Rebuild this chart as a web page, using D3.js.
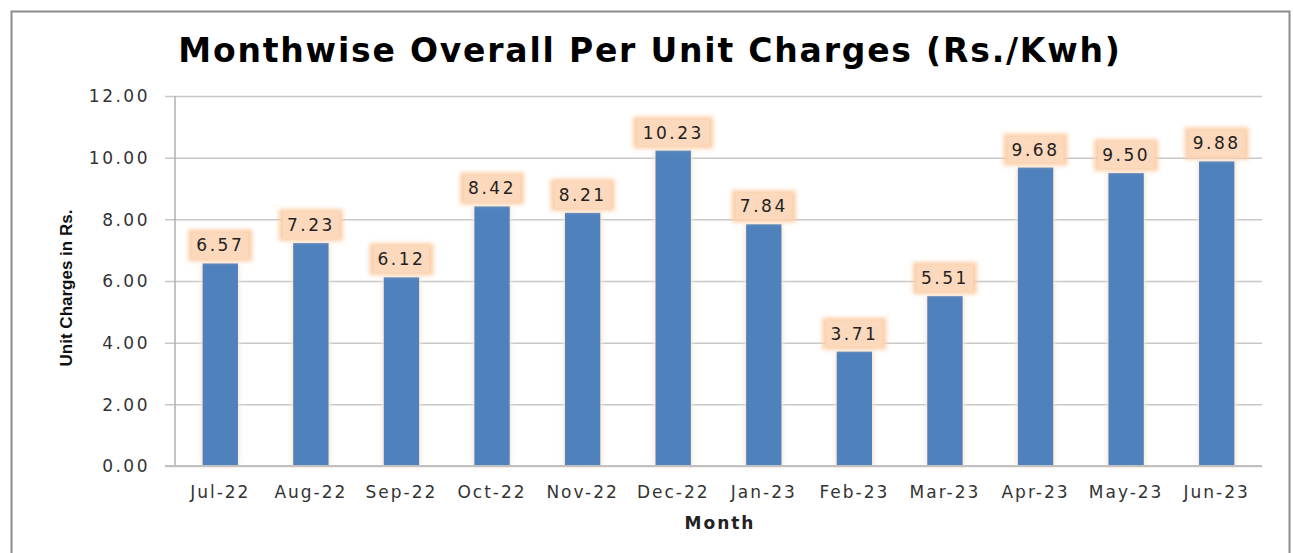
<!DOCTYPE html>
<html>
<head>
<meta charset="utf-8">
<script src="https://cdn.jsdelivr.net/npm/d3@7"></script>
<style>
  body { margin: 0; background: #fff; }
  text { font-family: "DejaVu Sans", Verdana, sans-serif; }
</style>
</head>
<body>
<div class="chart"></div>
<script>
var months = ["Jul-22", "Aug-22", "Sep-22", "Oct-22", "Nov-22", "Dec-22", "Jan-23", "Feb-23", "Mar-23", "Apr-23", "May-23", "Jun-23"];
var charges = [6.57, 7.23, 6.12, 8.42, 8.21, 10.23, 7.84, 3.71, 5.51, 9.68, 9.50, 9.88];
var yTicks = [0, 2, 4, 6, 8, 10, 12];

var svgWidth = 1293;
var svgHeight = 553;
var margin = {top: 96, right: 31, bottom: 87, left: 175};
var width = svgWidth - margin.left - margin.right;
var height = svgHeight - margin.top - margin.bottom;

var svg = d3.select(".chart")
  .append("svg")
  .attr("width", svgWidth)
  .attr("height", svgHeight);

// soft glow behind the value labels
var defs = svg.append("defs");
var glow = defs.append("filter").attr("id", "glow")
  .attr("x", "-30%").attr("y", "-40%").attr("width", "160%").attr("height", "180%");
glow.append("feGaussianBlur").attr("stdDeviation", 2.2);

// outer frame
svg.append("rect")
  .attr("x", 11.5).attr("y", 11.5)
  .attr("width", 1278).attr("height", 560)
  .attr("fill", "none")
  .attr("stroke", "#8c8c8c")
  .attr("stroke-width", 2);

// title
svg.append("text")
  .attr("x", 650)
  .attr("y", 62)
  .attr("text-anchor", "middle")
  .style("font-size", "33px")
  .style("font-weight", "bold")
  .style("letter-spacing", "1.8px")
  .attr("fill", "#000")
  .text("Monthwise Overall Per Unit Charges (Rs./Kwh)");

var chart = svg.append("g")
  .attr("transform", "translate(" + margin.left + "," + margin.top + ")");

var x = d3.scaleBand().domain(months).range([0, width]).paddingInner(0.61).paddingOuter(0.305);
var y = d3.scaleLinear().domain([0, 12]).range([height, 0]);

// gridlines + y ticks
var leftAxis = d3.axisLeft(y)
  .tickValues(yTicks)
  .tickSize(-width)
  .tickFormat(d3.format(".2f"))
  .tickPadding(25);

var yAxis = chart.append("g").attr("class", "y-axis").call(leftAxis);
yAxis.select(".domain").remove();
yAxis.selectAll(".tick line")
  .attr("x1", -10)
  .attr("stroke", "#c8c8c8")
  .attr("stroke-width", 1.5);
yAxis.selectAll(".tick text")
  .style("font-size", "17px")
  .style("letter-spacing", "2.5px")
  .attr("fill", "#333")
  .attr("dy", "0.35em");

// y axis line
chart.append("line")
  .attr("x1", 0).attr("x2", 0)
  .attr("y1", 0).attr("y2", height)
  .attr("stroke", "#b0b0b0")
  .attr("stroke-width", 1.5);

// bars with a faint orange halo
chart.selectAll(".halo")
  .data(charges)
  .enter().append("rect")
  .attr("class", "halo")
  .attr("x", function(d, i) { return x(months[i]) - 1.5; })
  .attr("y", function(d) { return y(d); })
  .attr("width", x.bandwidth() + 3)
  .attr("height", function(d) { return height - y(d); })
  .attr("fill", "#fbe3d0")
  .attr("filter", "url(#glow)");

chart.selectAll(".bar")
  .data(charges)
  .enter().append("rect")
  .attr("class", "bar")
  .attr("x", function(d, i) { return x(months[i]); })
  .attr("y", function(d) { return y(d); })
  .attr("width", x.bandwidth())
  .attr("height", function(d) { return height - y(d); })
  .attr("fill", "#4f81bd");

// x axis
var bottomAxis = d3.axisBottom(x).tickSize(0).tickPadding(20);
var xAxis = chart.append("g")
  .attr("class", "x-axis")
  .attr("transform", "translate(0," + height + ")")
  .call(bottomAxis);
xAxis.select(".domain").remove();
xAxis.selectAll(".tick text")
  .style("font-size", "17px")
  .style("letter-spacing", "2px")
  .attr("fill", "#333");

chart.append("line")
  .attr("x1", -10).attr("x2", width)
  .attr("y1", height).attr("y2", height)
  .attr("stroke", "#c0c0c0")
  .attr("stroke-width", 2);

// value labels
var labels = chart.selectAll(".lbl")
  .data(charges)
  .enter().append("g")
  .attr("class", "lbl")
  .attr("transform", function(d, i) {
    return "translate(" + (x(months[i]) + x.bandwidth() / 2) + "," + y(d) + ")";
  });

labels.append("rect")
  .attr("x", function(d) { return d >= 10 ? -40 : -32; })
  .attr("y", -34)
  .attr("width", function(d) { return d >= 10 ? 80 : 64; })
  .attr("height", 32)
  .attr("fill", "#fbcfa8")
  .attr("filter", "url(#glow)");

labels.append("rect")
  .attr("x", function(d) { return d >= 10 ? -36 : -28; })
  .attr("y", -31)
  .attr("width", function(d) { return d >= 10 ? 72 : 56; })
  .attr("height", 26)
  .attr("fill", "#fcd9bc");

labels.append("text")
  .attr("y", -12)
  .attr("text-anchor", "middle")
  .style("font-size", "17px")
  .style("letter-spacing", "2.5px")
  .attr("fill", "#222")
  .text(function(d) { return d.toFixed(2); });

// axis titles
svg.append("text")
  .attr("transform", "translate(72,288) rotate(-90)")
  .attr("text-anchor", "middle")
  .style("font-family", "'Liberation Sans Narrow', 'Liberation Sans', sans-serif")
  .style("font-size", "17px")
  .style("font-weight", "bold")
  .attr("fill", "#111")
  .text("Unit Charges in Rs.");

svg.append("text")
  .attr("x", 720)
  .attr("y", 529)
  .attr("text-anchor", "middle")
  .style("font-size", "17px")
  .style("font-weight", "bold")
  .style("letter-spacing", "2px")
  .attr("fill", "#222")
  .text("Month");
</script>
</body>
</html>
